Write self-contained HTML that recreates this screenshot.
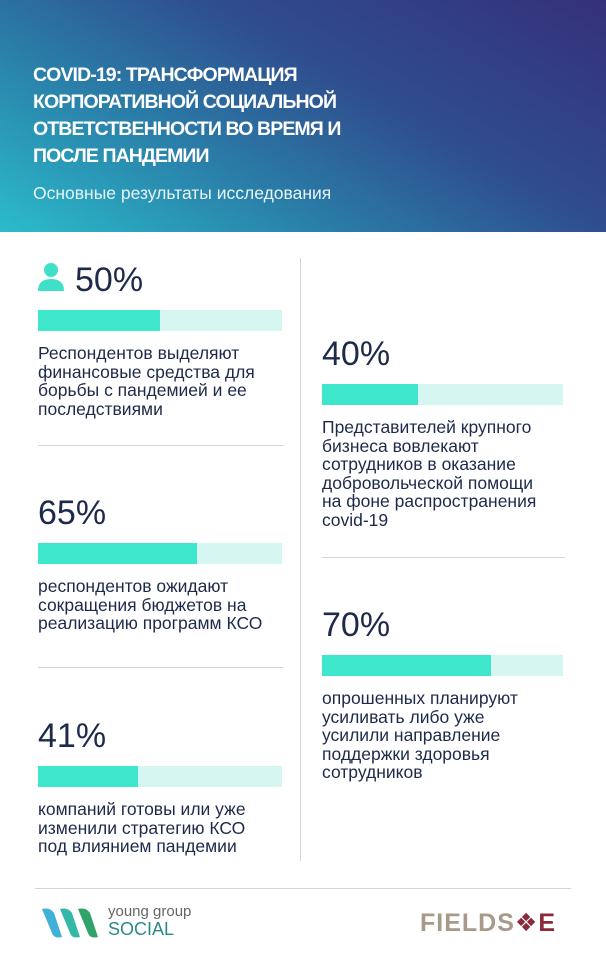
<!DOCTYPE html>
<html><head><meta charset="utf-8"><style>
*{margin:0;padding:0;box-sizing:border-box}
body{width:606px;height:960px;background:#fff;position:relative;overflow:hidden;font-family:"Liberation Sans","DejaVu Sans",sans-serif;color:#1d2a4a}
#hdr{position:absolute;left:0;top:0;width:606px;height:232px;background:linear-gradient(30deg,#2bbccb 0%,#2a7aa6 35%,#2f4e8e 60%,#35307a 100%)}
#hdr h1{position:absolute;left:33px;top:62px;font-size:19.5px;line-height:27px;color:#fff;font-weight:bold;letter-spacing:-0.9px}
#hdr p{position:absolute;left:33px;top:183px;font-size:17.5px;color:#e8f4f8}
.abs{position:absolute}
.pct{font-size:34px;color:#1d2a4a}
.txt{font-size:17.5px;line-height:18.5px;color:#1d2a4a;white-space:nowrap}
.sep{position:absolute;height:1px;background:#d4d4d4}
</style></head><body>
<div id="hdr">
<h1>COVID-19: ТРАНСФОРМАЦИЯ<br>КОРПОРАТИВНОЙ СОЦИАЛЬНОЙ<br>ОТВЕТСТВЕННОСТИ ВО ВРЕМЯ И<br>ПОСЛЕ ПАНДЕМИИ</h1>
<p>Основные результаты исследования</p>
</div>
<div class="sep" style="left:300px;top:258px;width:1px;height:603px"></div>
<div class="sep" style="left:38px;top:445px;width:245px"></div>
<div class="sep" style="left:38px;top:667px;width:245px"></div>
<div class="sep" style="left:322px;top:557px;width:243px"></div>
<div class="sep" style="left:35px;top:888px;width:536px"></div>
<svg class="abs" style="left:38px;top:262px" width="28" height="30"><circle cx="13" cy="8" r="7" fill="#3ee0c8"/><path d="M0 29 Q0 17 13 17 Q26 17 26 29 Z" fill="#3ee0c8"/></svg>
<div id="items"></div>
<div class="abs" style="left:40px;top:905px">
<svg width="62" height="36" style="position:absolute;left:0;top:0"><path d="M2 4 Q10 2 14 8 L22 32 Q14 34 12 28 Z" fill="#3fb0d8"/><path d="M20 4 Q28 2 32 8 L40 32 Q32 34 30 28 Z" fill="#35b8a8"/><path d="M38 4 Q46 2 50 8 L58 32 Q50 34 48 28 Z" fill="#2fa36a"/></svg>
<div class="abs" style="left:68px;top:-2px;font-size:15px;color:#666;white-space:nowrap">young group</div>
<div class="abs" style="left:68px;top:14px;font-size:18px;color:#2a8a8a">SOCIAL</div>
</div>
<div class="abs" style="left:420px;top:908px;font-size:25px;font-weight:bold;color:#a89a8a;letter-spacing:1px">FIELDS<span style="color:#8a2a3a">❖</span><span style="color:#8a2a3a">E</span></div>
<script>
const values=[50,65,41,40,70];
const labels=["50%","65%","41%","40%","70%"];
const texts=["Респондентов выделяют<br>финансовые средства для<br>борьбы с пандемией и ее<br>последствиями","респондентов ожидают<br>сокращения бюджетов на<br>реализацию программ КСО","компаний готовы или уже<br>изменили стратегию КСО<br>под влиянием пандемии","Представителей крупного<br>бизнеса вовлекают<br>сотрудников в оказание<br>добровольческой помощи<br>на фоне распространения<br>covid-19","опрошенных планируют<br>усиливать либо уже<br>усилили направление<br>поддержки здоровья<br>сотрудников"];
const layout=[[38,310,244,37],[38,543,244,0],[38,766,244,0],[322,384,241,0],[322,655,241,0]];
const xs=v=>v/100;
const root=document.getElementById('items');
values.forEach((v,i)=>{
 const [x,y,w,off]=layout[i];
 const p=document.createElement('div');p.className='abs pct';
 
 
 p.style.left=(x+off)+'px';p.style.top=(y-49)+'px';p.textContent=labels[i];root.appendChild(p);
 const t=document.createElement('div');t.className='abs';
 
 
 t.style.cssText=`left:${x}px;top:${y}px;width:${w}px;height:21px;background:#d6f6f1`;root.appendChild(t);
 const f=document.createElement('div');f.className='abs';
 
 
 f.style.cssText=`left:${x}px;top:${y}px;width:${w*xs(v)}px;height:21px;background:#3ee6cc`;root.appendChild(f);
 const d=document.createElement('div');d.className='abs txt';
 
 
 d.style.left=x+'px';d.style.top=(y+34)+'px';d.innerHTML=texts[i];root.appendChild(d);
});
</script>
</body></html>
